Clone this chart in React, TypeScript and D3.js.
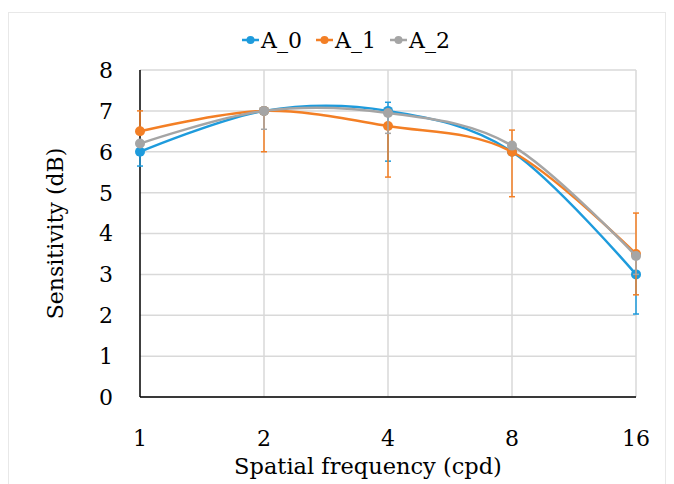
import React from "react";
import * as d3 from "d3";

const categories = ["1", "2", "4", "8", "16"];
const yTicks = [0, 1, 2, 3, 4, 5, 6, 7, 8];

const seriesNames = ["A_0", "A_1", "A_2"];
const seriesColors = ["#1E9BDC", "#F37F25", "#A5A5A5"];

const a0Values = [6.0, 7.0, 7.0, 6.0, 3.0];
const a0ErrLow = [0.35, 0, 1.23, 0, 0.97];
const a0ErrHigh = [0, 0, 0.21, 0, 0];

const a1Values = [6.5, 7.0, 6.63, 6.0, 3.5];
const a1ErrLow = [0, 1.0, 1.25, 1.1, 1.0];
const a1ErrHigh = [0.5, 0, 0, 0.53, 1.0];

const a2Values = [6.2, 7.0, 6.95, 6.15, 3.45];
const a2ErrLow = [0, 0.45, 0.5, 0, 0.45];
const a2ErrHigh = [0, 0, 0, 0, 0];

const allValues = [a0Values, a1Values, a2Values];
const allErrLow = [a0ErrLow, a1ErrLow, a2ErrLow];
const allErrHigh = [a0ErrHigh, a1ErrHigh, a2ErrHigh];

const W = 674;
const H = 484;
const FONT = "DejaVu Serif, serif";

export default function App() {
  const left = 140;
  const right = 636;
  const top = 70;
  const bottom = 397;

  const x = d3.scalePoint<string>().domain(categories).range([left, right]);
  const y = d3.scaleLinear().domain([0, 8]).range([bottom, top]);

  const line = d3
    .line<number>()
    .x((_, i) => x(categories[i]) as number)
    .y((d) => y(d))
    .curve(d3.curveCardinal.tension(0));

  const capW = 3;

  return (
    <svg
      width={W}
      height={H}
      style={{ position: "absolute", left: 0, top: 0, background: "#fff", fontFamily: FONT }}
    >
      <rect x={8.5} y={12.5} width={657} height={480} fill="none" stroke="#e8e8e8" strokeWidth={1} />

      {/* gridlines */}
      {yTicks.map((t) => (
        <line key={"hy" + t} x1={left} x2={right} y1={y(t)} y2={y(t)} stroke="#d9d9d9" strokeWidth={1.5} />
      ))}
      {categories.slice(1).map((c) => (
        <line key={"vx" + c} x1={x(c)} x2={x(c)} y1={top} y2={bottom} stroke="#d9d9d9" strokeWidth={1.5} />
      ))}

      {/* axes */}
      <line x1={left} x2={left} y1={top} y2={bottom} stroke="#000" strokeWidth={1.5} />
      <line x1={left} x2={right} y1={bottom} y2={bottom} stroke="#000" strokeWidth={1.5} />

      {/* tick labels */}
      {yTicks.map((t) => (
        <text key={"yl" + t} x={113} y={y(t)} dy="0.36em" textAnchor="end" fontSize={22} fill="#000">
          {t}
        </text>
      ))}
      {categories.map((c) => (
        <text key={"xl" + c} x={x(c)} y={446} textAnchor="middle" fontSize={22} fill="#000">
          {c}
        </text>
      ))}

      {/* axis titles */}
      <text x={368} y={474} textAnchor="middle" fontSize={22.5} fill="#000">
        Spatial frequency (cpd)
      </text>
      <text
        transform={`translate(63, ${(top + bottom) / 2}) rotate(-90)`}
        textAnchor="middle"
        fontSize={22}
        fill="#000"
      >
        Sensitivity (dB)
      </text>

      {/* series */}
      {allValues.map((vals, si) => (
        <g key={"s" + si}>
          {vals.map((v, i) => {
            const cx = x(categories[i]) as number;
            const lo = v - allErrLow[si][i];
            const hi = v + allErrHigh[si][i];
            return (
              <g key={"e" + i} stroke={seriesColors[si]} strokeWidth={1.5}>
                {allErrLow[si][i] > 0 && (
                  <>
                    <line x1={cx} x2={cx} y1={y(v)} y2={y(lo)} />
                    <line x1={cx - capW} x2={cx + capW} y1={y(lo)} y2={y(lo)} />
                  </>
                )}
                {allErrHigh[si][i] > 0 && (
                  <>
                    <line x1={cx} x2={cx} y1={y(v)} y2={y(hi)} />
                    <line x1={cx - capW} x2={cx + capW} y1={y(hi)} y2={y(hi)} />
                  </>
                )}
              </g>
            );
          })}
          <path d={line(vals) || ""} fill="none" stroke={seriesColors[si]} strokeWidth={2.5} />
          {vals.map((v, i) => (
            <circle key={"m" + i} cx={x(categories[i])} cy={y(v)} r={5} fill={seriesColors[si]} />
          ))}
        </g>
      ))}

      {/* legend */}
      {seriesNames.map((n, i) => {
        const lx = 242 + i * 74;
        return (
          <g key={"lg" + n}>
            <line x1={lx} x2={lx + 17} y1={40} y2={40} stroke={seriesColors[i]} strokeWidth={2.5} />
            <circle cx={lx + 8.5} cy={40} r={4} fill={seriesColors[i]} />
            <text x={lx + 19} y={48} fontSize={22} fill="#000">
              {n}
            </text>
          </g>
        );
      })}
    </svg>
  );
}
